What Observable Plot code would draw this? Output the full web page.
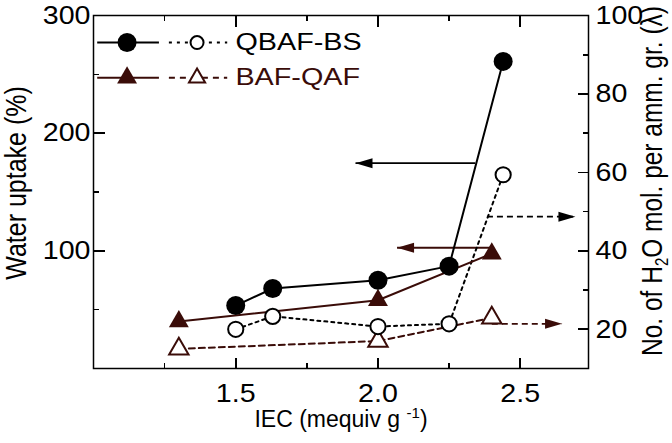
<!DOCTYPE html>
<html><head><meta charset="utf-8">
<script src="https://cdn.jsdelivr.net/npm/d3@7"></script>
<script src="https://cdn.jsdelivr.net/npm/@observablehq/plot@0.6"></script>
<style>
body{margin:0;background:#fff}
svg{font-family:"Liberation Sans",Arial,Helvetica,sans-serif}
</style>
</head><body><div id="chart"></div>
<script>
// ---- data ----
const seriesNames = ["QBAF-BS", "BAF-QAF"];
const iecQ = [1.5, 1.63, 2.0, 2.25, 2.44];
const uptakeQ = [53.5, 68, 75, 87, 261];          // Water uptake (%), left axis
const lambdaQ = [20.0, 23.3, 20.7, 21.4, 59.4];   // lambda, right axis
const iecB = [1.3, 2.0, 2.4];
const uptakeB = [40, 58, 97.6];
const lambdaB = [15.0, 17.0, 22.9];

// ticks
const xMajor = [1.5, 2.0, 2.5];
const xMinor = [1.25, 1.75, 2.25];
const leftMajor = [100, 200, 300];
const leftMinor = [50, 150, 250];
const rightMajor = [20, 40, 60, 80, 100];
const rightMinor = [30, 50, 70, 90];

// arrows pointing to the axis each series belongs to
const arrowFrom = [2.342, 2.383, 2.40, 2.40];
const arrowTo   = [1.921, 2.694, 2.067, 2.647];
const arrowAt   = [174.5, 48.7, 102.6, 21.4];
const arrowAxis = ["left", "right", "left", "right"];
const arrowSeries = [0, 0, 1, 1];

// ---- helpers ----
const xDomain = [1.0, 2.74];
const leftDomain = [0, 300];
const rightDomain = [10, 100];
const toLeft = l => (l - rightDomain[0]) * (leftDomain[1] - leftDomain[0]) / (rightDomain[1] - rightDomain[0]);
const fromLeft = v => v * (rightDomain[1] - rightDomain[0]) / (leftDomain[1] - leftDomain[0]) + rightDomain[0];

const black = "#000000";
const brown = "#3a0c08";
const colors = [black, brown];

const W = 672, H = 443, mT = 15, mR = 84, mB = 75, mL = 93;
const frameW = W - mL - mR, frameH = H - mT - mB;
// tick lengths expressed in data units of each scale
const pxX = (xDomain[1] - xDomain[0]) / frameW;
const pxY = (leftDomain[1] - leftDomain[0]) / frameH;
const major = 11, minor = 5.5;

const Q = iecQ.map((x, i) => ({x, u: uptakeQ[i], l: toLeft(lambdaQ[i])}));
const B = iecB.map((x, i) => ({x, u: uptakeB[i], l: toLeft(lambdaB[i])}));
const arrows = arrowFrom.map((x1, i) => ({
  x1, x2: arrowTo[i],
  y: arrowAxis[i] === "left" ? arrowAt[i] : toLeft(arrowAt[i]),
  dir: arrowTo[i] < x1 ? "L" : "R",
  dashed: arrowAxis[i] === "right",
  color: colors[arrowSeries[i]]
}));

const headR = {draw(c){ c.moveTo(0,0); c.lineTo(-17,-5); c.lineTo(-17,5); c.closePath(); }};
const headL = {draw(c){ c.moveTo(0,0); c.lineTo(17,-5); c.lineTo(17,5); c.closePath(); }};

// legend layout (in data units)
const legY = [277, 247];
const legSolid = [1.013, 1.23], legDash = [1.265, 1.47];
const legFilledX = 1.118, legOpenX = 1.364, legTextX = 1.499;
const legend = seriesNames.map((name, i) => ({name, y: legY[i], color: colors[i]}));

// tick segments built from the tick arrays (inward, on all four sides)
const xTickSegs = [
  ...xMajor.map(v => ({v, len: major})), ...xMinor.map(v => ({v, len: minor}))
].flatMap(({v, len}) => [
  {x1: v, x2: v, y1: leftDomain[0], y2: leftDomain[0] + len * pxY},
  {x1: v, x2: v, y1: leftDomain[1], y2: leftDomain[1] - len * pxY}
]);
const yTickSegs = [
  ...leftMajor.map(v => ({x1: xDomain[0], x2: xDomain[0] + major * pxX, y1: v, y2: v})),
  ...leftMinor.map(v => ({x1: xDomain[0], x2: xDomain[0] + minor * pxX, y1: v, y2: v})),
  ...rightMajor.map(v => ({x1: xDomain[1], x2: xDomain[1] - major * pxX, y1: toLeft(v), y2: toLeft(v)})),
  ...rightMinor.map(v => ({x1: xDomain[1], x2: xDomain[1] - minor * pxX, y1: toLeft(v), y2: toLeft(v)}))
];

const chart = Plot.plot({
  width: W, height: H,
  marginTop: mT, marginRight: mR, marginBottom: mB, marginLeft: mL,
  x: {domain: xDomain},
  y: {domain: leftDomain},
  style: {fontFamily: "'Liberation Sans', Arial, sans-serif", background: "#fff", color: "#000"},
  marks: [
    Plot.frame({stroke: black, fill: "none", strokeWidth: 1.5}),
    Plot.link(xTickSegs, {x1: "x1", x2: "x2", y1: "y1", y2: "y2", stroke: black, strokeWidth: 1.6, shapeRendering: "crispEdges"}),
    Plot.link(yTickSegs, {x1: "x1", x2: "x2", y1: "y1", y2: "y2", stroke: black, strokeWidth: 1.6, shapeRendering: "crispEdges"}),
    // tick labels
    Plot.axisX({anchor: "bottom", ticks: xMajor, tickSize: 0, tickPadding: 15, tickFormat: d3.format(".1f"), fontSize: 26, label: null}),
    Plot.axisY({anchor: "left", ticks: leftMajor, tickSize: 0, tickPadding: 3, fontSize: 26, label: null}),
    Plot.axisY({anchor: "right", ticks: rightMajor.map(toLeft), tickSize: 0, tickPadding: 7, fontSize: 26,
      tickFormat: d => String(Math.round(fromLeft(d))), label: null}),
    // axis titles
    Plot.text(["IEC (mequiv g -1)"], {frameAnchor: "bottom", dy: 51, fontSize: 23, lineAnchor: "middle", textAnchor: "middle"}),
    Plot.text(["Water uptake (%)"], {frameAnchor: "left", rotate: -90, dx: -77, dy: -9, fontSize: 25, lineAnchor: "middle", textAnchor: "middle"}),
    Plot.text(["No. of H2O mol. per amm. gr. (λ)"], {frameAnchor: "right", rotate: -90, dx: 64, dy: -11, fontSize: 24.5, lineAnchor: "middle", textAnchor: "middle"}),
    // arrows
    Plot.link(arrows.filter(d => !d.dashed), {x1: "x1", x2: "x2", y1: "y", y2: "y", stroke: "color", strokeWidth: 1.8}),
    Plot.link(arrows.filter(d => d.dashed), {x1: "x1", x2: "x2", y1: "y", y2: "y", stroke: "color", strokeWidth: 1.8, strokeDasharray: "6,4"}),
    Plot.dot(arrows.filter(d => d.dir === "R"), {x: "x2", y: "y", symbol: headR, fill: "color", stroke: null}),
    Plot.dot(arrows.filter(d => d.dir === "L"), {x: "x2", y: "y", symbol: headL, fill: "color", stroke: null}),
    // series lines
    Plot.line(B, {x: "x", y: "l", stroke: brown, strokeWidth: 2, strokeDasharray: "6,4"}),
    Plot.line(Q, {x: "x", y: "l", stroke: black, strokeWidth: 2, strokeDasharray: "3,4"}),
    Plot.line(B, {x: "x", y: "u", stroke: brown, strokeWidth: 2}),
    Plot.line(Q, {x: "x", y: "u", stroke: black, strokeWidth: 2}),
    // markers
    Plot.dot(B, {x: "x", y: "l", symbol: "triangle", r: 7.2, fill: "#fff", stroke: brown, strokeWidth: 2}),
    Plot.dot(Q, {x: "x", y: "l", r: 7.6, fill: "#fff", stroke: black, strokeWidth: 2}),
    Plot.dot(B, {x: "x", y: "u", symbol: "triangle", r: 7.4, fill: brown, stroke: null}),
    Plot.dot(Q, {x: "x", y: "u", r: 9.5, fill: black, stroke: null}),
    // legend
    Plot.link(legend, {x1: legSolid[0], x2: legSolid[1], y1: "y", y2: "y", stroke: "color", strokeWidth: 2}),
    Plot.link(legend.slice(0, 1), {x1: legDash[0], x2: legDash[1], y1: "y", y2: "y", stroke: "color", strokeWidth: 2, strokeDasharray: "3,5"}),
    Plot.link(legend.slice(1), {x1: legDash[0], x2: legDash[1], y1: "y", y2: "y", stroke: "color", strokeWidth: 2, strokeDasharray: "6,5"}),
    Plot.dot(legend.slice(0, 1), {x: legFilledX, y: "y", r: 9.5, fill: black, stroke: null}),
    Plot.dot(legend.slice(1), {x: legFilledX, y: "y", symbol: "triangle", r: 7.4, fill: brown, stroke: null}),
    Plot.dot(legend.slice(0, 1), {x: legOpenX, y: "y", r: 6.5, fill: "#fff", stroke: black, strokeWidth: 2}),
    Plot.dot(legend.slice(1), {x: legOpenX, y: "y", symbol: "triangle", r: 6, fill: "#fff", stroke: brown, strokeWidth: 2}),
    Plot.text(legend, {x: legTextX, y: "y", text: "name", fill: "color", textAnchor: "start", fontSize: 23, lineAnchor: "middle"})
  ]
});
document.getElementById("chart").appendChild(chart);

// ---- typographic post-processing ----
const NS = "http://www.w3.org/2000/svg";
function stretch(el, sx, sy) {
  const t = el.getAttribute("transform") || "";
  el.setAttribute("transform", (t + ` scale(${sx},${sy})`).trim());
}
function rich(el, parts) {
  el.textContent = "";
  for (const p of parts) {
    const ts = document.createElementNS(NS, "tspan");
    ts.textContent = p.t;
    if (p.size) ts.setAttribute("font-size", p.size);
    if (p.dy) ts.setAttribute("dy", p.dy);
    el.appendChild(ts);
  }
}
chart.querySelectorAll('g[aria-label$="tick label"] text').forEach(el => stretch(el, 1.1, 1));
chart.querySelectorAll("text").forEach(el => {
  const s = el.textContent;
  if (s === "IEC (mequiv g -1)") rich(el, [{t: "IEC (mequiv g "}, {t: "-1", size: 15, dy: -9}, {t: ")", dy: 9}]);
  else if (s === "Water uptake (%)") stretch(el, 1, 1.18);
  else if (s.startsWith("No. of H2O")) {
    rich(el, [{t: "No. of H"}, {t: "2", size: 15, dy: 5}, {t: "O mol. per amm. gr. (λ)", dy: -5}]);
    stretch(el, 1, 1.18);
  }
  else if (seriesNames.includes(s)) stretch(el, 1.25, 1);
});
</script>
</body></html>
